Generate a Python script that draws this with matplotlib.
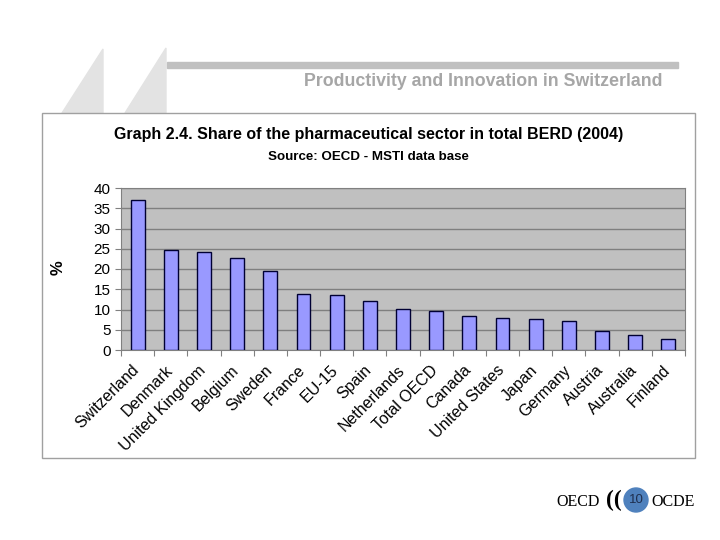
import matplotlib.pyplot as plt
from matplotlib.patches import Polygon, Rectangle, Ellipse
from matplotlib.transforms import ScaledTranslation

plt.rcParams['font.family'] = ['Liberation Sans', 'DejaVu Sans']

countries = ['Switzerland', 'Denmark', 'United Kingdom', 'Belgium', 'Sweden', 'France',
             'EU-15', 'Spain', 'Netherlands', 'Total OECD', 'Canada', 'United States',
             'Japan', 'Germany', 'Austria', 'Australia', 'Finland']
share = [37.0, 24.6, 24.1, 22.6, 19.6, 13.9, 13.7, 12.1, 10.1, 9.6, 8.3, 7.8,
         7.6, 7.1, 4.6, 3.8, 2.6]
yticks = [0, 5, 10, 15, 20, 25, 30, 35, 40]

W, H = 720, 540
fig = plt.figure(figsize=(7.2, 5.4), dpi=100)

def fx(x):
    return x / W

def fy(y):
    return 1 - y / H

# slide decoration
for pts in ([(62, 113), (103, 49), (103, 113)], [(125, 113), (166, 48), (166, 113)]):
    fig.patches.append(Polygon([(fx(a), fy(b)) for a, b in pts], closed=True,
                               transform=fig.transFigure, color='#e3e3e3', zorder=0))
fig.patches.append(Rectangle((fx(167), fy(68)), fx(678) - fx(167), 6 / H,
                             transform=fig.transFigure, color='#c0c0c0', zorder=0))
fig.text(fx(663), fy(82), 'Productivity and Innovation in Switzerland', ha='right', va='center',
         fontsize=12.8, fontweight='bold', color='#a6a6a6')

# chart box
fig.patches.append(Rectangle((fx(42), fy(458)), fx(695) - fx(42), (458 - 113) / H,
                             transform=fig.transFigure, facecolor='white',
                             edgecolor='#a0a0a0', lw=1, zorder=1))

fig.text(fx(369), fy(135), 'Graph 2.4. Share of the pharmaceutical sector in total BERD (2004)',
         ha='center', va='center', fontsize=11.5, fontweight='bold')
fig.text(fx(368), fy(157), 'Source: OECD - MSTI data base', ha='center', va='center',
         fontsize=9.6, fontweight='bold')

ax = fig.add_axes([fx(121), fy(350), (685 - 121) / W, (350 - 188) / H], zorder=2)
ax.set_facecolor('#c0c0c0')
x = range(len(countries))
ax.bar(x, share, width=0.42, color='#9999ff', edgecolor='#000033', lw=1, zorder=3)
ax.set_ylim(0, 40)
ax.set_xlim(-0.5, len(countries) - 0.5)
ax.set_yticks(yticks)
ax.yaxis.grid(True, color='#7f7f7f', lw=1, zorder=1)
ax.set_axisbelow(True)
ax.set_xticks([i - 0.5 for i in range(len(countries) + 1)], minor=False)
ax.set_xticklabels([])
ax.set_xticks(list(x), minor=True)
ax.set_xticklabels(countries, minor=True, rotation=45, ha='right', rotation_mode='anchor',
                   fontsize=11.5)
ax.tick_params(axis='x', which='minor', length=0, pad=9)
ax.tick_params(axis='x', which='major', length=4, color='#808080', direction='out')
ax.tick_params(axis='y', labelsize=11, length=4, color='#808080')
# shift the rotated labels a little to the left, like the original
shift = ScaledTranslation(-6 / 100, 0, fig.dpi_scale_trans)
for lab in ax.get_xticklabels(minor=True):
    lab.set_transform(lab.get_transform() + shift)
for s in ax.spines.values():
    s.set_color('#808080')
fig.text(fx(58), fy(268), '%', rotation=90, ha='center', va='center', fontsize=12,
         fontweight='bold')

# footer logo
fig.text(fx(556), fy(502), 'OECD', ha='left', va='center', fontsize=11.5,
         family=['Liberation Serif', 'DejaVu Serif'])
fig.text(fx(651), fy(502), 'OCDE', ha='left', va='center', fontsize=11.5,
         family=['Liberation Serif', 'DejaVu Serif'])
fig.text(fx(614), fy(500), '((', ha='center', va='center', fontsize=17, fontweight='bold',
         family=['Liberation Serif', 'DejaVu Serif'])
fig.patches.append(Ellipse((fx(636), fy(500)), 24 / W, 24 / H, transform=fig.transFigure,
                           color='#4f81bd', zorder=3))
fig.text(fx(636), fy(500), '10', ha='center', va='center', fontsize=9.5, color='#1f2f4f', zorder=4)

fig.savefig('out.png', dpi=100)
